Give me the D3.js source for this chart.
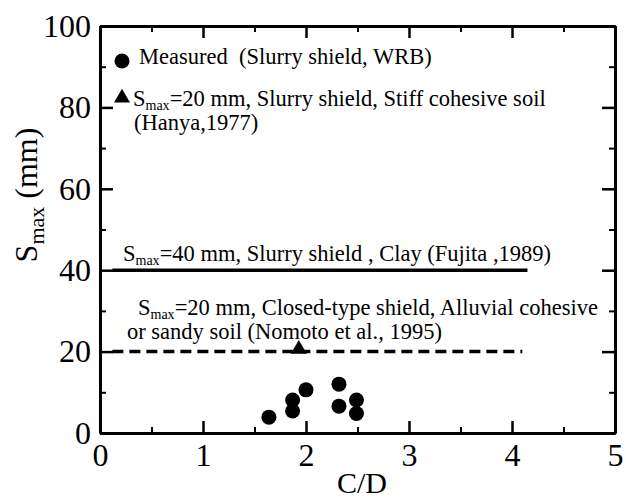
<!DOCTYPE html>
<html>
<head>
<meta charset="utf-8">
<script src="https://cdn.jsdelivr.net/npm/d3@7"></script>
<style>
  html, body { margin: 0; padding: 0; background: #fff; }
  svg { display: block; font-family: "Liberation Serif", "Times New Roman", Times, serif; }
  .axis text { font-size: 32px; fill: #000; font-family: "Liberation Serif", "Times New Roman", Times, serif; }
  .axis .domain { stroke: #000; stroke-width: 3; }
  .axis line { stroke: #000; stroke-width: 2.5; }
  .minor line { stroke-width: 2; }
  .note { font-size: 22.5px; fill: #000; white-space: pre; }
</style>
</head>
<body>
<div id="chart"></div>
<script>
// measured settlements (slurry shield, WRB)
const measuredCD   = [1.64, 1.87, 1.87, 2.0, 2.32, 2.32, 2.49, 2.49];
const measuredSmax = [3.9, 8.1, 5.4, 10.6, 12.0, 6.6, 8.1, 4.8];

// Hanya (1977) point
const hanyaCD   = [1.93];
const hanyaSmax = [20.6];

// reference limit lines
const fujitaCD   = [0.12, 4.15];
const fujitaSmax = [40, 40];
const nomotoCD   = [0.12, 4.1];
const nomotoSmax = [20, 20];

// ticks
const xTicks = [0, 1, 2, 3, 4, 5];
const xMinor = [0.5, 1.5, 2.5, 3.5, 4.5];
const yTicks = [0, 20, 40, 60, 80, 100];
const yMinor = [10, 30, 50, 70, 90];

const width = 626, height = 500;
const margin = {top: 26, right: 11, bottom: 67, left: 100};

const svg = d3.select("#chart").append("svg")
    .attr("width", width)
    .attr("height", height);

svg.append("rect").attr("width", width).attr("height", height).attr("fill", "#fff");

const x = d3.scaleLinear().domain([0, 5]).range([margin.left, width - margin.right]);
const y = d3.scaleLinear().domain([0, 100]).range([height - margin.bottom, margin.top]);

const x0 = x.range()[0], x1 = x.range()[1];
const y0 = y.range()[0], y1 = y.range()[1];

// bottom axis (ticks point inward)
svg.append("g").attr("class", "axis")
    .attr("transform", "translate(0," + y0 + ")")
    .call(d3.axisBottom(x).tickValues(xTicks).tickSize(-12).tickSizeOuter(0).tickPadding(10).tickFormat(d3.format("d")));
svg.append("g").attr("class", "axis minor")
    .attr("transform", "translate(0," + y0 + ")")
    .call(d3.axisBottom(x).tickValues(xMinor).tickSize(-6).tickSizeOuter(0).tickFormat(""));

// top axis
svg.append("g").attr("class", "axis")
    .attr("transform", "translate(0," + y1 + ")")
    .call(d3.axisTop(x).tickValues(xTicks).tickSize(-12).tickSizeOuter(0).tickFormat(""));
svg.append("g").attr("class", "axis minor")
    .attr("transform", "translate(0," + y1 + ")")
    .call(d3.axisTop(x).tickValues(xMinor).tickSize(-6).tickSizeOuter(0).tickFormat(""));

// left axis
svg.append("g").attr("class", "axis")
    .attr("transform", "translate(" + x0 + ",0)")
    .call(d3.axisLeft(y).tickValues(yTicks).tickSize(-13).tickSizeOuter(0).tickPadding(9).tickFormat(d3.format("d")));
svg.append("g").attr("class", "axis minor")
    .attr("transform", "translate(" + x0 + ",0)")
    .call(d3.axisLeft(y).tickValues(yMinor).tickSize(-6).tickSizeOuter(0).tickFormat(""));

// right axis
svg.append("g").attr("class", "axis")
    .attr("transform", "translate(" + x1 + ",0)")
    .call(d3.axisRight(y).tickValues(yTicks).tickSize(-13).tickSizeOuter(0).tickFormat(""));
svg.append("g").attr("class", "axis minor")
    .attr("transform", "translate(" + x1 + ",0)")
    .call(d3.axisRight(y).tickValues(yMinor).tickSize(-6).tickSizeOuter(0).tickFormat(""));

// axis titles
svg.append("text")
    .attr("x", 362).attr("y", 493)
    .attr("text-anchor", "middle")
    .style("font-size", "30px")
    .text("C/D");

const yTitle = svg.append("text")
    .attr("transform", "translate(37,195) rotate(-90)")
    .attr("text-anchor", "middle")
    .style("font-size", "32px");
yTitle.append("tspan").text("S");
yTitle.append("tspan").attr("dy", 7).style("font-size", "22px").text("max");
yTitle.append("tspan").attr("dy", -7).text(" (mm)");

// reference lines
const line = d3.line().x(d => x(d[0])).y(d => y(d[1]));

svg.append("path")
    .datum(d3.zip(fujitaCD, fujitaSmax))
    .attr("d", line)
    .attr("fill", "none")
    .attr("stroke", "#000")
    .attr("stroke-width", 3.5);

svg.append("path")
    .datum(d3.zip(nomotoCD, nomotoSmax))
    .attr("d", line)
    .attr("fill", "none")
    .attr("stroke", "#000")
    .attr("stroke-width", 3.5)
    .attr("stroke-dasharray", "11,6");

// measured points
svg.selectAll("circle.meas")
    .data(d3.zip(measuredCD, measuredSmax))
    .enter().append("circle")
    .attr("class", "meas")
    .attr("cx", d => x(d[0]))
    .attr("cy", d => y(d[1]))
    .attr("r", 7.5)
    .attr("fill", "#000");

// Hanya point
const tri = d3.symbol().type(d3.symbolTriangle).size(110);
svg.selectAll("path.hanya")
    .data(d3.zip(hanyaCD, hanyaSmax))
    .enter().append("path")
    .attr("class", "hanya")
    .attr("d", tri)
    .attr("transform", d => "translate(" + x(d[0]) + "," + y(d[1]) + ")")
    .attr("fill", "#000");

// legend / annotations
function smaxText(sel, px, py, rest) {
    const t = sel.append("text").attr("class", "note").attr("x", px).attr("y", py);
    t.append("tspan").text("S");
    t.append("tspan").attr("dy", 4).style("font-size", "14px").text("max");
    t.append("tspan").attr("dy", -4).text(rest);
    return t;
}

svg.append("circle").attr("cx", 122).attr("cy", 61).attr("r", 7.5).attr("fill", "#000");
svg.append("text").attr("class", "note").attr("x", 139).attr("y", 64)
    .text("Measured  (Slurry shield, WRB)");

svg.append("path").attr("d", tri).attr("transform", "translate(122,98)").attr("fill", "#000");
smaxText(svg, 133, 106, "=20 mm, Slurry shield, Stiff cohesive soil");
svg.append("text").attr("class", "note").attr("x", 134).attr("y", 130).text("(Hanya,1977)");

smaxText(svg, 123, 261, "=40 mm, Slurry shield , Clay (Fujita ,1989)");

smaxText(svg, 138, 315, "=20 mm, Closed-type shield, Alluvial cohesive");
svg.append("text").attr("class", "note").attr("x", 127).attr("y", 339)
    .text("or sandy soil (Nomoto et al., 1995)");
</script>
</body>
</html>
